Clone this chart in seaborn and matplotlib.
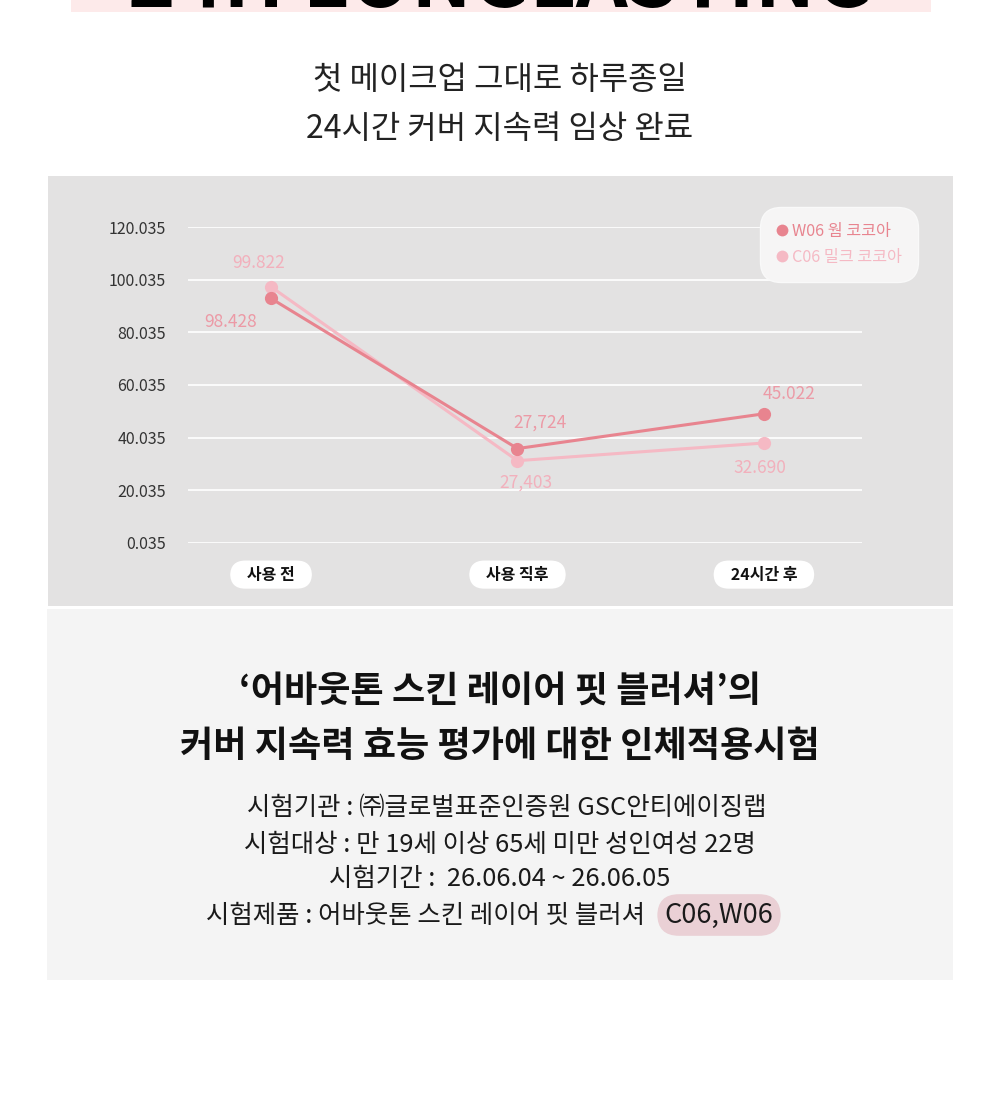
import pandas as pd
import seaborn as sns
import matplotlib.pyplot as plt
from matplotlib.lines import Line2D
from matplotlib.patches import Rectangle

# Data
stages = ["사용 전", "사용 직후", "24시간 후"]
w06_name = "W06 웜 코코아"
c06_name = "C06 밀크 코코아"
w06_values = [92.9, 35.9, 49.1]
c06_values = [97.3, 31.3, 38.0]
w06_labels = ["98.428", "27,724", "45.022"]
c06_labels = ["99.822", "27,403", "32.690"]
y_ticks = [0.035, 20.035, 40.035, 60.035, 80.035, 100.035, 120.035]

title_lines = ["첫 메이크업 그대로 하루종일", "24시간 커버 지속력 임상 완료"]
sub_title = ["‘어바웃톤 스킨 레이어 핏 블러셔’의", "커버 지속력 효능 평가에 대한 인체적용시험"]
info_lines = [
    "시험기관 : ㈜글로벌표준인증원 GSC안티에이징랩",
    "시험대상 : 만 19세 이상 65세 미만 성인여성 22명",
    "시험기간 :  26.06.04 ~ 26.06.05",
]
product_line = "시험제품 : 어바웃톤 스킨 레이어 핏 블러셔"
product_tag = "C06,W06"

W_COLOR = "#e8848f"
C_COLOR = "#f5b9c4"
W_LABEL = "#ec9aa6"
C_LABEL = "#f2b0bc"

W, H = 1000, 1109


def fx(x):
    return x / W


def fy(y):
    return 1 - y / H


sns.set_theme(style="whitegrid")
plt.rcParams["font.family"] = ["Noto Sans CJK KR", "DejaVu Sans"]

fig = plt.figure(figsize=(10, 11.09), dpi=100)
fig.patch.set_facecolor("white")

# background panels
fig.add_artist(Rectangle((fx(71), fy(12)), fx(860), 12 / H, transform=fig.transFigure,
                         fc="#fdeaea", ec="none", zorder=0))
fig.add_artist(Rectangle((fx(48), fy(606)), fx(905), 430 / H, transform=fig.transFigure,
                         fc="#e3e2e2", ec="none", zorder=0))
fig.add_artist(Rectangle((fx(47), fy(980)), fx(906), 371 / H, transform=fig.transFigure,
                         fc="#f4f4f4", ec="none", zorder=0))

# clipped banner headline
fig.text(0.5, fy(6.5), "24H LONGLASTING", ha="center", va="baseline", fontsize=58,
         fontweight="black", color="black")

for i, line in enumerate(title_lines):
    fig.text(0.5, fy(80 + 49 * i), line, ha="center", va="center", fontsize=23, color="#222222")

# chart
ax = fig.add_axes([fx(188), fy(543), fx(674), 316 / H])
ax.set_facecolor("none")

df = pd.DataFrame({
    "stage": stages * 2,
    "value": c06_values + w06_values,
    "product": [c06_name] * 3 + [w06_name] * 3,
})
sns.lineplot(data=df, x="stage", y="value", hue="product", sort=False,
             palette={w06_name: W_COLOR, c06_name: C_COLOR},
             hue_order=[c06_name, w06_name], marker="o", markersize=9.5,
             markeredgewidth=0, linewidth=2.2, legend=False, ax=ax)

ax.set_ylim(y_ticks[0], y_ticks[-1])
ax.set_xlim(-0.337, 2.398)
ax.set_yticks(y_ticks)
ax.set_yticklabels([f"{v:.3f}" for v in y_ticks], fontsize=11.5, color="#333333")
ax.set_xticks(range(len(stages)))
ax.set_xticklabels([f"   {s}   " for s in stages], fontsize=11.5, color="#111111",
                   fontweight="bold")
for lab in ax.get_xticklabels():
    lab.set_bbox(dict(boxstyle="round,pad=0.38,rounding_size=0.95", fc="white", ec="none"))
ax.tick_params(axis="x", pad=17, length=0)
ax.tick_params(axis="y", pad=16, length=0)
ax.grid(axis="y", color="white", linewidth=1.2)
ax.grid(axis="x", visible=False)
for s in ax.spines.values():
    s.set_visible(False)
ax.set_xlabel("")
ax.set_ylabel("")

w_offsets = [(-29, -17), (16, 19), (18, 14)]
c_offsets = [(-9, 17), (6, -16), (-3, -18)]
for i in range(len(stages)):
    ax.annotate(w06_labels[i], (i, w06_values[i]), xytext=w_offsets[i],
                textcoords="offset points", ha="center", va="center",
                fontsize=12.5, color=W_LABEL)
    ax.annotate(c06_labels[i], (i, c06_values[i]), xytext=c_offsets[i],
                textcoords="offset points", ha="center", va="center",
                fontsize=12.5, color=C_LABEL)

handles = [
    Line2D([], [], marker="o", linestyle="none", markersize=8.5, color=W_COLOR, markeredgewidth=0),
    Line2D([], [], marker="o", linestyle="none", markersize=8.5, color=C_COLOR, markeredgewidth=0),
]
leg = ax.legend(handles, [w06_name, c06_name], loc="upper right",
                bbox_to_anchor=(1.079, 1.054), fontsize=11.7, frameon=True,
                facecolor="#f6f5f5", edgecolor="#f9f9f9", framealpha=1,
                handlelength=0.7, handletextpad=0.3, labelspacing=0.55,
                borderpad=0.8, borderaxespad=0)
leg.get_frame().set_boxstyle("round,pad=0.2,rounding_size=1.3")
for t, c in zip(leg.get_texts(), [W_COLOR, C_COLOR]):
    t.set_color(c)

# lower text panel
for i, line in enumerate(sub_title):
    fig.text(0.5, fy(691 + 55 * i), line, ha="center", va="center", fontsize=26,
             fontweight="bold", color="#111111")

for i, line in enumerate(info_lines):
    fig.text(0.5 + (0.007 if i == 0 else 0), fy(808 + [0, 37, 71][i]), line, ha="center",
             va="center", fontsize=18.3, color="#1a1a1a")

fig.text(fx(645), fy(916), product_line, ha="right", va="center", fontsize=18.3, color="#1a1a1a")
fig.text(fx(719), fy(915), product_tag, ha="center", va="center", fontsize=19.5, color="#1a1a1a",
         bbox=dict(boxstyle="round,pad=0.27,rounding_size=0.8", fc="#ead0d5", ec="none"))

fig.savefig("out.png", dpi=100)
